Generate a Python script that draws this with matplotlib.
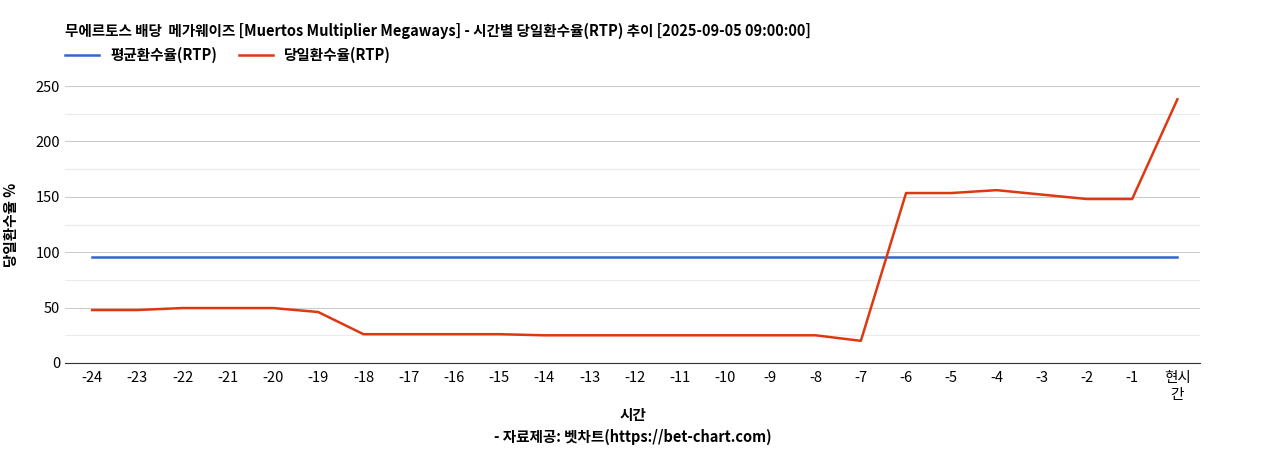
import matplotlib
matplotlib.use("Agg")
import matplotlib.pyplot as plt

plt.rcParams['font.family'] = ['Noto Sans CJK KR', 'DejaVu Sans']

labels = [str(i) for i in range(-24, 0)] + ['현시\n간']
daily = [47.8, 47.8, 49.6, 49.6, 49.6, 46.0, 26.0, 26.0, 26.0, 26.0, 25.0, 25.0, 25.0,
         25.0, 25.0, 25.0, 25.0, 20.0, 153.4, 153.4, 156.0, 152.0, 148.0, 148.0, 238.0]
avg = [95.7] * 25

fig = plt.figure(figsize=(12.65, 4.5), dpi=100)
ax = fig.add_axes([65/1265, 1-363/450, (1200-65)/1265, (363-86)/450])
x = list(range(len(labels)))
ax.plot(x, avg, color='#3366cc', lw=1.8, label='평균환수율(RTP)')
ax.plot(x, daily, color='#dc3912', lw=1.8, label='당일환수율(RTP)')
ax.set_xlim(-0.6, 24.5)
ax.set_ylim(0, 250)
ax.set_yticks([0, 50, 100, 150, 200, 250])
ax.set_yticks([25, 75, 125, 175, 225], minor=True)
ax.grid(axis='y', which='major', color='#cccccc', lw=0.8)
ax.grid(axis='y', which='minor', color='#ebebeb', lw=0.8)
ax.set_xticks(x)
ax.set_xticklabels(labels, fontsize=10.5)
ax.tick_params(axis='y', which='both', labelsize=10.5, length=0)
ax.tick_params(axis='x', length=0, pad=6)
for s in ['top', 'right', 'left']:
    ax.spines[s].set_visible(False)
ax.spines['bottom'].set_color('#333333')
ax.set_axisbelow(True)
ax.set_ylabel('당일환수율 %', fontsize=10.5, fontweight='bold', labelpad=12)
ax.set_xlabel('시간', fontsize=10.5, fontweight='bold', labelpad=4)
fig.text(65/1265, 1-31/450, '무에르토스 배당  메가웨이즈 [Muertos Multiplier Megaways] - 시간별 당일환수율(RTP) 추이 [2025-09-05 09:00:00]',
         fontsize=10.5, fontweight='bold', va='center')
fig.text(633/1265, 1-437/450, '- 자료제공: 벳차트(https://bet-chart.com)', fontsize=10.5,
         fontweight='bold', ha='center', va='center')
fig.legend(loc='center left', bbox_to_anchor=(52/1265, 1-55/450), ncol=2, frameon=False,
           prop={'size': 10.5, 'weight': 'bold'}, handlelength=2.3, columnspacing=1.5)
fig.savefig('out.png')
